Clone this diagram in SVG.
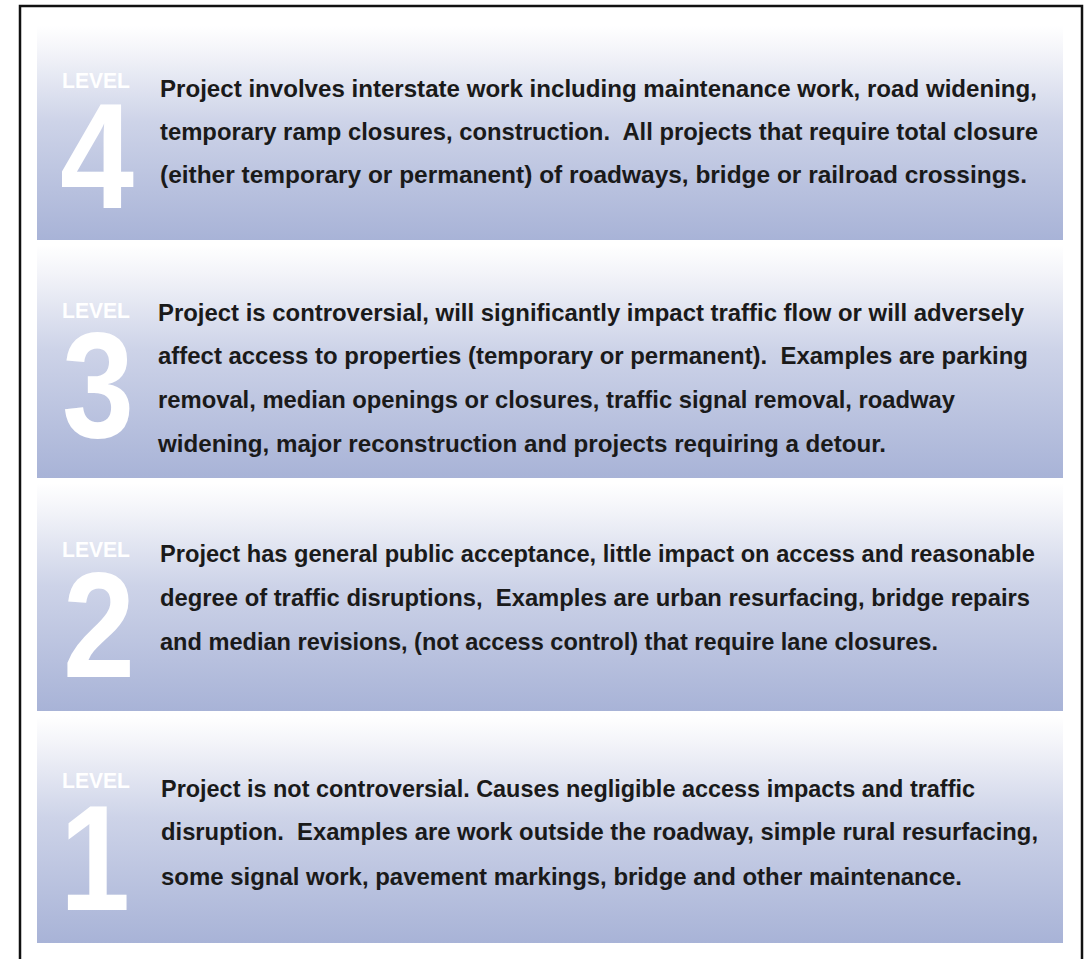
<svg xmlns="http://www.w3.org/2000/svg" width="1091" height="959" viewBox="0 0 1091 959">
<defs>
<linearGradient id="pg" x1="0" y1="0" x2="0" y2="1">
<stop offset="0" stop-color="#ffffff"/>
<stop offset="0.12" stop-color="#f3f4f9"/>
<stop offset="0.45" stop-color="#cdd3e8"/>
<stop offset="1" stop-color="#a8b3d7"/>
</linearGradient>
</defs>
<style>
.panel{fill:url(#pg)}
.lvl{font-family:"Liberation Sans",Arial,sans-serif;font-weight:bold;font-size:22px;fill:#ffffff}
.num{font-family:"Liberation Sans",Arial,sans-serif;font-weight:bold;font-size:150px;fill:#ffffff}
.body{font-family:"Liberation Sans",Arial,sans-serif;font-weight:bold;font-size:24px;fill:#1a1a1a;white-space:pre}
</style>
<rect x="0" y="0" width="1091" height="959" fill="#ffffff"/>
<rect x="20" y="6" width="1062" height="980" fill="none" stroke="#111111" stroke-width="2.5"/>

<g id="level4">
<rect class="panel" x="37" y="26" width="1026" height="214"/>
<text class="lvl" x="62" y="88" textLength="68" lengthAdjust="spacingAndGlyphs">LEVEL</text>
<text class="num" x="60" y="208" textLength="74" lengthAdjust="spacingAndGlyphs">4</text>
<text class="body" x="160" y="97" textLength="877" lengthAdjust="spacingAndGlyphs">Project involves interstate work including maintenance work, road widening,</text>
<text class="body" x="160" y="140" textLength="878" lengthAdjust="spacingAndGlyphs">temporary ramp closures, construction.  All projects that require total closure</text>
<text class="body" x="160" y="183" textLength="867" lengthAdjust="spacingAndGlyphs">(either temporary or permanent) of roadways, bridge or railroad crossings.</text>
</g>

<g id="level3">
<rect class="panel" x="37" y="245" width="1026" height="233"/>
<text class="lvl" x="62" y="318" textLength="68" lengthAdjust="spacingAndGlyphs">LEVEL</text>
<text class="num" x="62" y="437" textLength="72" lengthAdjust="spacingAndGlyphs">3</text>
<text class="body" x="158" y="321" textLength="866" lengthAdjust="spacingAndGlyphs">Project is controversial, will significantly impact traffic flow or will adversely</text>
<text class="body" x="158" y="364" textLength="870" lengthAdjust="spacingAndGlyphs">affect access to properties (temporary or permanent).  Examples are parking</text>
<text class="body" x="158" y="408" textLength="797" lengthAdjust="spacingAndGlyphs">removal, median openings or closures, traffic signal removal, roadway</text>
<text class="body" x="158" y="452" textLength="728" lengthAdjust="spacingAndGlyphs">widening, major reconstruction and projects requiring a detour.</text>
</g>

<g id="level2">
<rect class="panel" x="37" y="483" width="1026" height="228"/>
<text class="lvl" x="62" y="557" textLength="68" lengthAdjust="spacingAndGlyphs">LEVEL</text>
<text class="num" x="63" y="677" textLength="72" lengthAdjust="spacingAndGlyphs">2</text>
<text class="body" x="160" y="562" textLength="875" lengthAdjust="spacingAndGlyphs">Project has general public acceptance, little impact on access and reasonable</text>
<text class="body" x="160" y="606" textLength="870" lengthAdjust="spacingAndGlyphs">degree of traffic disruptions,  Examples are urban resurfacing, bridge repairs</text>
<text class="body" x="160" y="650" textLength="778" lengthAdjust="spacingAndGlyphs">and median revisions, (not access control) that require lane closures.</text>
</g>

<g id="level1">
<rect class="panel" x="37" y="716" width="1026" height="227"/>
<text class="lvl" x="62" y="788" textLength="68" lengthAdjust="spacingAndGlyphs">LEVEL</text>
<text class="num" x="60" y="910" textLength="70" lengthAdjust="spacingAndGlyphs">1</text>
<text class="body" x="161" y="797" textLength="814" lengthAdjust="spacingAndGlyphs">Project is not controversial. Causes negligible access impacts and traffic</text>
<text class="body" x="161" y="840" textLength="877" lengthAdjust="spacingAndGlyphs">disruption.  Examples are work outside the roadway, simple rural resurfacing,</text>
<text class="body" x="161" y="885" textLength="801" lengthAdjust="spacingAndGlyphs">some signal work, pavement markings, bridge and other maintenance.</text>
</g>

<g id="connectors"></g>
</svg>
